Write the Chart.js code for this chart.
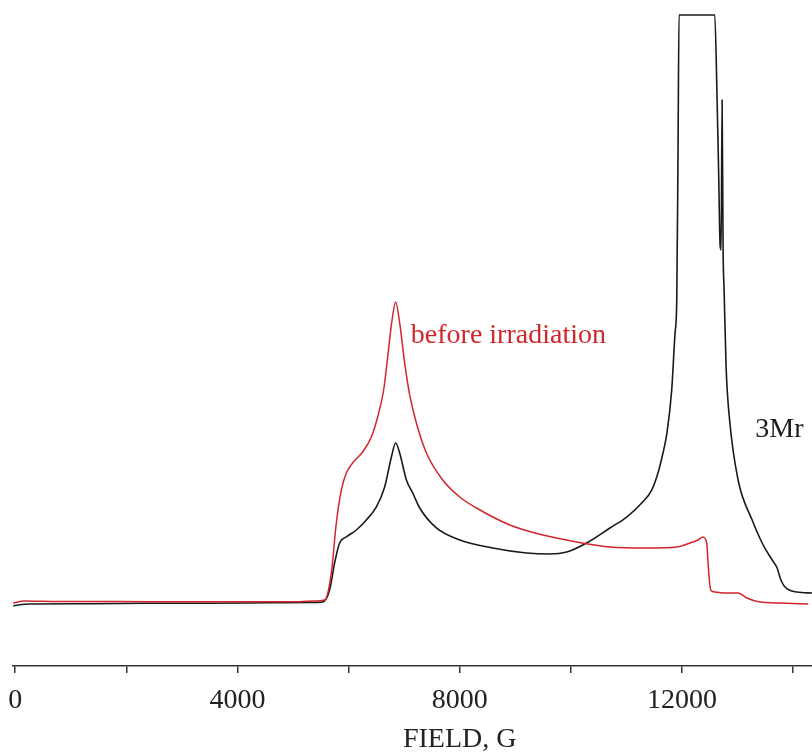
<!DOCTYPE html>
<html>
<head>
<meta charset="utf-8">
<title>EPR spectra</title>
<script src="https://cdn.jsdelivr.net/npm/chart.js@4.4.1/dist/chart.umd.min.js"></script>
<style>
  html, body { margin: 0; padding: 0; background: #ffffff; }
  #wrap { width: 812px; height: 755px; position: relative; }
</style>
</head>
<body>
<div id="wrap"><canvas id="grafico"></canvas></div>
<script>
/* ================= DADOS ================= */

// campo (G) e intensidade (u.a.) - espectro antes da irradiação
const campoAntes = [
  -36, 162, 793, 1874, 2955, 4036, 5117, 5388, 5568, 5689, 5779, 5869, 5959,
  6072, 6252, 6409, 6523, 6631, 6703, 6775, 6847, 6919, 7010, 7100, 7220,
  7400, 7694, 8000, 8301, 8901, 9496, 10103, 10703, 11365, 11905, 12145,
  12288, 12378, 12445, 12474, 12517, 12595, 12806, 13015, 13166, 13406,
  13767, 14271
];
const sinalAntes = [
  9.66, 9.97, 9.89, 9.89, 9.85, 9.85, 9.86, 9.97, 10.12, 14.26, 21.93, 26.99,
  29.6, 31.13, 32.82, 35.12, 38.19, 42.33, 47.39, 52.61, 55.83, 52.61, 46.4,
  41.56, 37.27, 32.67, 28.53, 25.92, 24.23, 21.63, 20.09, 19.02, 18.25, 18.1,
  18.25, 18.87, 19.33, 19.79, 18.87, 15.18, 11.66, 11.35, 11.2, 11.2, 10.43,
  9.82, 9.66, 9.51
];

// espectro após 3 Mr
const campo3Mr = [
  -36, 252, 1333, 2415, 3496, 4577, 5298, 5532, 5658, 5748, 5838, 5959, 6139,
  6319, 6500, 6649, 6770, 6847, 6919, 7040, 7154, 7280, 7580, 8000, 8595,
  9202, 9622, 9923, 10283, 10703, 11004, 11275, 11455, 11568, 11658, 11730,
  11815, 11875, 11906, 11929, 11947, 12590, 12632, 12659, 12686, 12704,
  12722, 12740, 12758, 12794, 12857, 13010, 13263, 13461, 13623, 13713,
  13767, 13839, 14068, 14340
];
const sinal3Mr = [
  9.25, 9.51, 9.54, 9.62, 9.62, 9.69, 9.74, 9.82, 11.66, 15.8, 18.87, 19.79,
  20.86, 22.39, 24.39, 27.45, 32.06, 34.2, 32.67, 28.53, 26.53, 24.23, 21.17,
  19.33, 18.1, 17.33, 17.18, 17.48, 18.87, 21.17, 22.85, 25.0, 26.99, 29.6,
  32.67, 35.74, 42.33, 51.07, 56.13, 79.14, 99.85, 99.85, 86.81, 76.07,
  64.57, 63.8, 86.81, 63.8, 57.67, 45.86, 37.73, 28.53, 22.39, 18.56, 16.26,
  15.03, 13.5, 12.27, 11.35, 11.2
];

// marcas do eixo x e quais recebem número
const marcasCampo = [0, 2000, 4000, 6000, 8000, 10000, 12000, 14000];
const ticksRotulados = [0, 4000, 8000, 12000];

const FONTE = "'Liberation Serif', 'Times New Roman', serif";
const VERMELHO = "#d0262c";
const PRETO = "#1a1a1a";

function pares(xs, ys) {
  return xs.map((x, i) => ({ x, y: ys[i] }));
}

/* ================= TEXTOS ================= */

// rótulos presos a coordenadas de dados + título do eixo
const textos = {
  id: "textos",
  afterDraw(chart) {
    const { ctx, scales: { x, y }, chartArea } = chart;
    ctx.save();
    ctx.font = "28px " + FONTE;
    ctx.textBaseline = "alphabetic";
    ctx.textAlign = "left";

    ctx.fillStyle = VERMELHO;
    ctx.fillText("before irradiation", x.getPixelForValue(7120), y.getPixelForValue(49.5));

    ctx.fillStyle = PRETO;
    ctx.fillText("3Mr", x.getPixelForValue(13320), y.getPixelForValue(35.1));

    ctx.textAlign = "center";
    ctx.textBaseline = "middle";
    ctx.fillStyle = "#222";
    ctx.fillText("FIELD, G", x.getPixelForValue(8000), chartArea.bottom + 74);
    ctx.restore();
  }
};

/* ================= GRÁFICO ================= */

new Chart(document.getElementById("grafico"), {
  type: "scatter",
  data: {
    datasets: [
      {
        data: pares(campoAntes, sinalAntes),
        showLine: true,
        borderColor: VERMELHO,
        borderWidth: 1.5,
        pointRadius: 0,
        cubicInterpolationMode: "monotone"
      },
      {
        data: pares(campo3Mr, sinal3Mr),
        showLine: true,
        borderColor: PRETO,
        borderWidth: 1.6,
        pointRadius: 0,
        cubicInterpolationMode: "monotone"
      }
    ]
  },
  options: {
    responsive: true,
    maintainAspectRatio: false,
    animation: false,
    layout: { padding: { top: 14, left: 13, right: 0, bottom: 0 } },
    plugins: {
      legend: { display: false },
      tooltip: { enabled: false }
    },
    scales: {
      x: {
        type: "linear",
        min: -40,
        max: 14340,
        afterBuildTicks: s => { s.ticks = marcasCampo.map(v => ({ value: v })); },
        afterFit: s => {
          s.height = 89;
          s.paddingLeft = 0;
          s.paddingRight = 0;
        },
        border: { color: "#333", width: 1.5 },
        grid: {
          drawOnChartArea: false,
          drawTicks: true,
          tickLength: 7,
          color: "#333",
          lineWidth: 1.5
        },
        ticks: {
          autoSkip: false,
          maxRotation: 0,
          padding: 11,
          color: "#222",
          font: { family: FONTE, size: 28 },
          callback: v => ticksRotulados.includes(v) ? String(v) : ""
        }
      },
      y: {
        display: false,
        min: 0,
        max: 100
      }
    }
  },
  plugins: [textos]
});
</script>
</body>
</html>
